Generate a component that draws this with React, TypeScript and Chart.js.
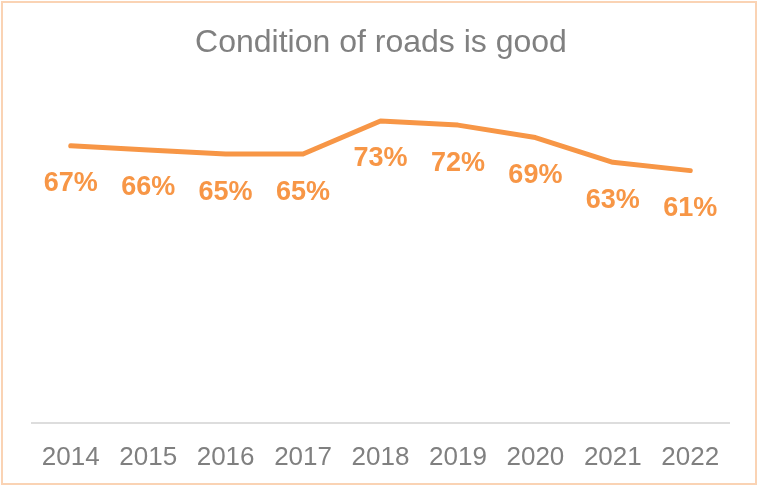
import React, { useEffect, useRef } from "react";
import { Chart, registerables } from "chart.js";

Chart.register(...registerables);

const categories = ["2014", "2015", "2016", "2017", "2018", "2019", "2020", "2021", "2022"];
const values = [67, 66, 65, 65, 73, 72, 69, 63, 61];
const titleText = "Condition of roads is good";

const ORANGE = "#F79646";
const FONT = "'Liberation Sans', Arial, sans-serif";

const decorPlugin = {
  id: "decor",
  beforeDraw(chart: any) {
    const { ctx, width, height } = chart;
    ctx.save();
    ctx.fillStyle = "#ffffff";
    ctx.fillRect(0, 0, width, height);
    ctx.strokeStyle = "#FAD3B4";
    ctx.lineWidth = 2;
    ctx.strokeRect(2, 2, width - 4, height - 4);
    ctx.fillStyle = "#808080";
    ctx.font = `32px ${FONT}`;
    ctx.textAlign = "center";
    ctx.textBaseline = "middle";
    ctx.fillText(titleText, 381, 43);
    ctx.restore();
  },
  afterDatasetsDraw(chart: any) {
    const { ctx } = chart;
    const meta = chart.getDatasetMeta(0);
    ctx.save();
    ctx.fillStyle = ORANGE;
    ctx.font = `bold 27px ${FONT}`;
    ctx.textAlign = "center";
    ctx.textBaseline = "middle";
    meta.data.forEach((pt: any, i: number) => {
      ctx.fillText(values[i] + "%", pt.x, pt.y + 38);
    });
    ctx.restore();
  },
};

export default function App() {
  const ref = useRef<HTMLCanvasElement>(null);
  useEffect(() => {
    const chart = new Chart(ref.current!, {
      type: "line",
      data: {
        labels: categories,
        datasets: [
          {
            data: values,
            borderColor: ORANGE,
            borderWidth: 5,
            borderCapStyle: "round",
            borderJoinStyle: "round",
            pointRadius: 0,
            tension: 0,
          },
        ],
      },
      options: {
        animation: false,
        responsive: false,
        devicePixelRatio: 1,
        layout: { padding: { left: 32, right: 29, top: 92, bottom: 0 } },
        plugins: { legend: { display: false }, tooltip: { enabled: false } },
        scales: {
          x: {
            offset: true,
            grid: { display: false, drawTicks: false, tickLength: 0 },
            border: { display: true, color: "#DDDDDD", width: 2 },
            ticks: { color: "#808080", font: { family: FONT, size: 26 }, padding: 19, maxRotation: 0 },
            afterFit(scale: any) {
              scale.height = 63;
            },
          },
          y: { display: false, min: 0, max: 80 },
        },
      },
      plugins: [decorPlugin],
    });
    return () => chart.destroy();
  }, []);
  return (
    <div style={{ position: "fixed", left: 0, top: 0, width: 758, height: 486 }}>
      <canvas ref={ref} width={758} height={486} style={{ width: 758, height: 486 }} />
    </div>
  );
}
